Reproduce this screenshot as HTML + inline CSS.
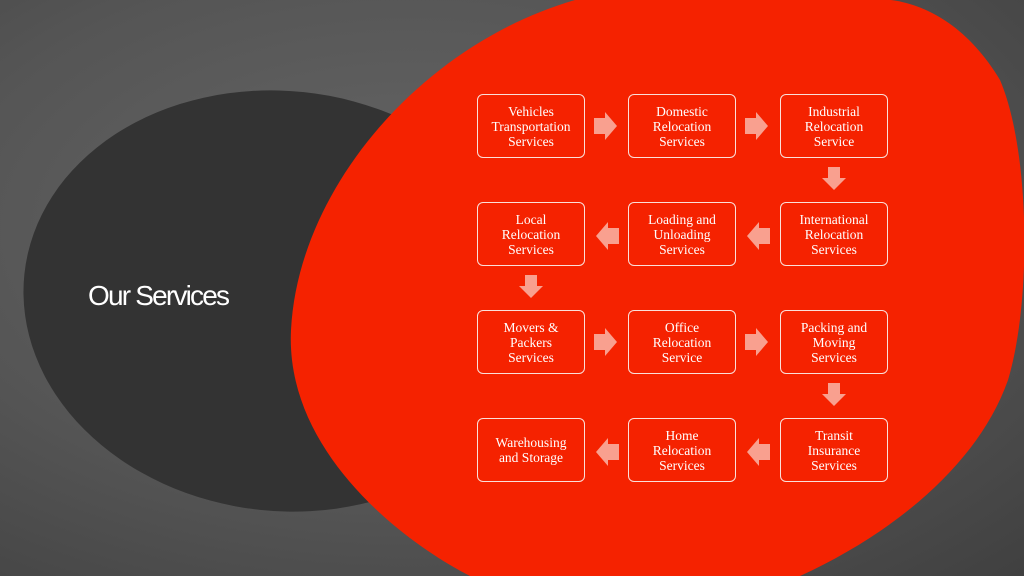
<!DOCTYPE html>
<html><head><style>
html,body{margin:0;padding:0}
body{width:1024px;height:576px;overflow:hidden;position:relative;background:radial-gradient(ellipse at 40% 40%,#666 0%,#555 55%,#404040 100%);font-family:"Liberation Serif",serif}
svg{position:absolute;left:0;top:0}
.t{position:absolute;left:88px;top:280px;color:#fff;font-family:"Liberation Sans",sans-serif;font-size:28px;letter-spacing:-1.8px;font-weight:300}
.b{position:absolute;width:106px;height:62px;border:1.2px solid #fbe0da;border-radius:6px;color:#fff;font-size:13.5px;line-height:15px;display:flex;align-items:center;justify-content:center;text-align:center}
</style></head><body>
<svg width="1024" height="576">
<ellipse cx="282" cy="301" rx="259" ry="210" transform="rotate(6 282 301)" fill="#333333"/>
<path d="M575 0 C420 45 298 190 291 330 C285 450 400 540 470 576 L800 576 C900 530 980 460 1008 380 C1032 300 1030 150 1000 80 C970 30 930 5 891 0 Z" fill="#f52200"/>
<g fill="#f9a08f">
<path id="r" d="M594 118 h11 v-6 l12 14 l-12 14 v-6 h-11 z"/>
<use href="#r" x="151"/>
<use href="#r" y="216"/>
<use href="#r" x="151" y="216"/>
<path id="l" d="M770 228 h-11 v-6 l-12 14 l12 14 v-6 h11 z"/>
<use href="#l" x="-151"/>
<use href="#l" y="216"/>
<use href="#l" x="-151" y="216"/>
<path id="d" d="M828 167 v11 h-6 l12 12 l12 -12 h-6 v-11 z"/>
<use href="#d" y="216"/>
<use href="#d" x="-303" y="108"/>
</g>
</svg>
<div class="t">Our Services</div>
<div class="b" style="left:477px;top:94px">Vehicles<br>Transportation<br>Services</div>
<div class="b" style="left:628px;top:94px">Domestic<br>Relocation<br>Services</div>
<div class="b" style="left:780px;top:94px">Industrial<br>Relocation<br>Service</div>
<div class="b" style="left:477px;top:202px">Local<br>Relocation<br>Services</div>
<div class="b" style="left:628px;top:202px">Loading and<br>Unloading<br>Services</div>
<div class="b" style="left:780px;top:202px">International<br>Relocation<br>Services</div>
<div class="b" style="left:477px;top:310px">Movers &amp;<br>Packers<br>Services</div>
<div class="b" style="left:628px;top:310px">Office<br>Relocation<br>Service</div>
<div class="b" style="left:780px;top:310px">Packing and<br>Moving<br>Services</div>
<div class="b" style="left:477px;top:418px">Warehousing<br>and Storage</div>
<div class="b" style="left:628px;top:418px">Home<br>Relocation<br>Services</div>
<div class="b" style="left:780px;top:418px">Transit<br>Insurance<br>Services</div>
</body></html>
